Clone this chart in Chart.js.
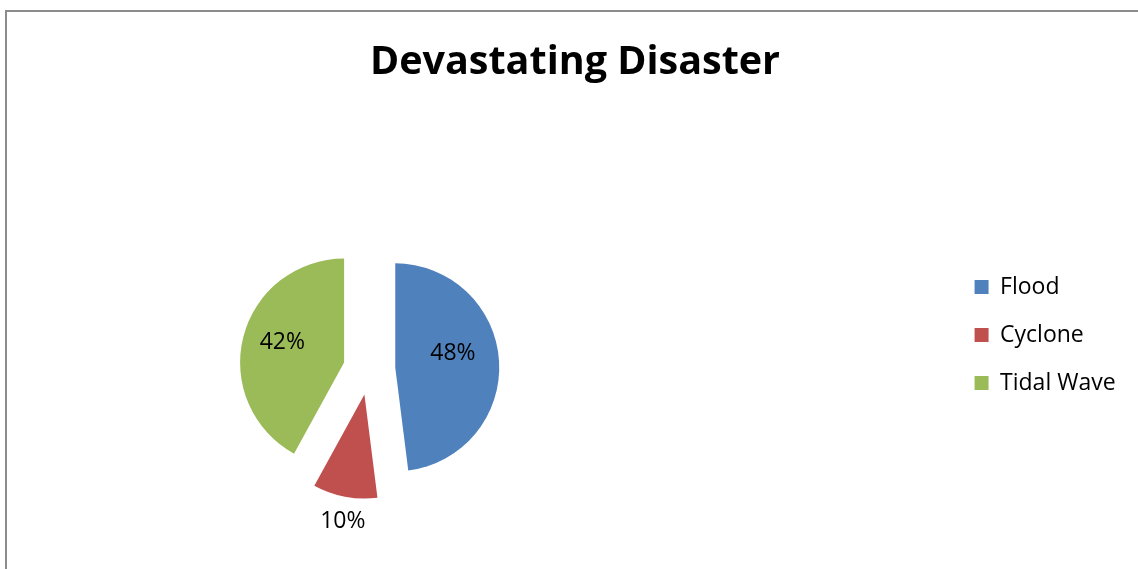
<!DOCTYPE html>
<html><head><meta charset="utf-8">
<script src="https://cdn.jsdelivr.net/npm/chart.js@4.4.1/dist/chart.umd.min.js"></script>
<style>
html,body{margin:0;padding:0;overflow:hidden;background:#fff;width:1138px;height:569px;}
#frame{position:absolute;left:5px;top:10px;width:1200px;height:620px;border-left:2px solid #8c8c8c;border-top:2px solid #8c8c8c;overflow:hidden;}
#c{position:absolute;left:-218px;top:0;}
</style></head><body>
<div id="frame"><canvas id="c" width="1572" height="620"></canvas></div>
<script>
const chartTitle = 'Devastating Disaster';
const categories = ['Flood', 'Cyclone', 'Tidal Wave'];
const shares = [48, 10, 42];
const sliceColors = ['#4F81BD', '#C0504D', '#9BBB59'];

const FONT = "'Open Sans', sans-serif";
Chart.defaults.font.family = FONT;

const explodedPie = {
  id: 'explodedPie',
  beforeDatasetsDraw(chart, args, opts) {
    const ctx = chart.ctx;
    const meta = chart.getDatasetMeta(0);
    const d = opts.distance;
    meta.data.forEach(arc => {
      const mid = (arc.startAngle + arc.endAngle) / 2;
      ctx.save();
      ctx.translate(Math.cos(mid) * d, Math.sin(mid) * d);
      arc.draw(ctx);
      ctx.restore();
    });
    // percentage labels
    const total = shares.reduce((a, b) => a + b, 0);
    ctx.save();
    ctx.font = opts.labelFontSize + 'px ' + FONT;
    ctx.fillStyle = opts.labelColor;
    ctx.textAlign = 'center';
    ctx.textBaseline = 'middle';
    meta.data.forEach((arc, i) => {
      const mid = (arc.startAngle + arc.endAngle) / 2;
      const p = opts.labelPlacement[i];
      const vx = arc.x + Math.cos(mid) * d;
      const vy = arc.y + Math.sin(mid) * d;
      const a = mid + p.turn * Math.PI / 180;
      const r = arc.outerRadius * p.radius;
      const pct = Math.round(shares[i] / total * 100) + '%';
      ctx.fillText(pct, vx + Math.cos(a) * r, vy + Math.sin(a) * r);
    });
    ctx.restore();
    return false;
  }
};

new Chart(document.getElementById('c'), {
  type: 'pie',
  data: {
    labels: categories,
    datasets: [{
      data: shares,
      backgroundColor: sliceColors,
      borderWidth: 0,
      hoverOffset: 0,
      offset: 0
    }]
  },
  options: {
    responsive: false,
    animation: false,
    events: [],
    radius: 104,
    layout: { padding: { top: 27.5, bottom: 1.5, left: 0, right: 0 } },
    plugins: {
      title: {
        display: true,
        text: chartTitle,
        color: '#000',
        font: { family: FONT, size: 39.5, weight: 'bold', lineHeight: 1.2 },
        padding: { top: 0, bottom: 20.6 }
      },
      subtitle: {
        display: true,
        position: 'right',
        text: '',
        font: { size: 12, lineHeight: 1.2 },
        padding: { top: 221, bottom: 0 }
      },
      legend: {
        position: 'right',
        align: 'center',
        labels: {
          boxWidth: 14,
          boxHeight: 14,
          padding: 25,
          color: '#000',
          font: { family: FONT, size: 23 }
        }
      },
      tooltip: { enabled: false },
      explodedPie: {
        distance: 26,
        labelFontSize: 23,
        labelColor: '#000',
        labelPlacement: [
          { radius: 0.57, turn: -9.7 },
          { radius: 1.234, turn: -1.1 },
          { radius: 0.625, turn: 3.7 }
        ]
      }
    }
  },
  plugins: [explodedPie]
});
</script>
</body></html>
